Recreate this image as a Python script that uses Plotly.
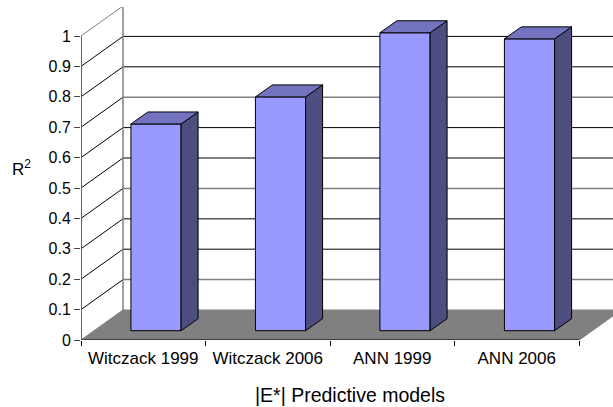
import plotly.graph_objects as go

categories = ["Witczack 1999", "Witczack 2006", "ANN 1999", "ANN 2006"]
r2_values = [0.68, 0.769, 0.98, 0.96]
y_ticks = [0, 0.1, 0.2, 0.3, 0.4, 0.5, 0.6, 0.7, 0.8, 0.9, 1]
y_tick_labels = ["0", "0.1", "0.2", "0.3", "0.4", "0.5", "0.6", "0.7", "0.8", "0.9", "1"]

FONT = "Liberation Sans"
BAND_PX, UNIT_PX = 124.5, 304.0
L, R, T, B = 81, 0, 7, 67
W, H = 613, 407
xmin, xmax = -0.5, -0.5 + (W - L - R) / BAND_PX
ymax = (H - T - B) / UNIT_PX
x_end = 3.5
wall_dx, wall_dy = 42 / BAND_PX, 30 / UNIT_PX
bar_w, bar_off, bar_base = 0.403, 12.75 / BAND_PX, 9.3 / UNIT_PX
bar_dx, bar_dy = 17 / BAND_PX, 12 / UNIT_PX

FRONT, TOP, SIDE = "#9999ff", "#7373bf", "#4d4d80"
GRID_STYLE = {0.1: ("#808080", 1.5), 0.3: ("#555555", 1.5), 0.4: ("#808080", 1.5),
              0.7: ("#808080", 1.5), 1: ("#808080", 1.5)}

shapes = []
def poly(pts, **kw):
    path = "M " + " L ".join(f"{x},{y}" for x, y in pts) + " Z"
    shapes.append(dict(type="path", path=path, xref="x", yref="y", layer="below", **kw))
def pline(pts, color, width):
    path = "M " + " L ".join(f"{x},{y}" for x, y in pts)
    shapes.append(dict(type="path", path=path, xref="x", yref="y", layer="below",
                       line=dict(color=color, width=width)))

poly([(xmin, 0), (xmin + wall_dx, wall_dy), (x_end + wall_dx, wall_dy), (x_end, 0)],
     fillcolor="#808080", line=dict(color="#808080", width=1))
for v in y_ticks[1:]:
    col, wid = GRID_STYLE.get(v, ("#000000", 1))
    side_col = "#808080" if v == 1 else "#000000"
    pline([(xmin, v), (xmin + wall_dx, v + wall_dy)], side_col, 1)
    pline([(xmin + wall_dx, v + wall_dy), (xmax, v + wall_dy)], col, wid)
pline([(xmin + wall_dx, wall_dy), (xmin + wall_dx, 1 + wall_dy)], "#808080", 1.5)
pline([(x_end, 0), (x_end + wall_dx, wall_dy)], "#808080", 1)

fig = go.Figure()
fig.add_trace(go.Bar(
    x=[i + bar_off for i in range(len(categories))], y=r2_values,
    base=bar_base, width=bar_w,
    marker=dict(color=FRONT, line=dict(color="#000000", width=1)),
    showlegend=False, hoverinfo="skip"))

for i, v in enumerate(r2_values):
    x0 = i + bar_off - bar_w / 2
    x1 = x0 + bar_w
    b, t = bar_base, bar_base + v
    fig.add_trace(go.Scatter(
        x=[x1, x1 + bar_dx, x1 + bar_dx, x1, x1], y=[b, b + bar_dy, t + bar_dy, t, b],
        fill="toself", fillcolor=SIDE, mode="lines", line=dict(color="#000000", width=1),
        showlegend=False, hoverinfo="skip"))
    fig.add_trace(go.Scatter(
        x=[x0, x0 + bar_dx, x1 + bar_dx, x1, x0], y=[t, t + bar_dy, t + bar_dy, t, t],
        fill="toself", fillcolor=TOP, mode="lines", line=dict(color="#000000", width=1),
        showlegend=False, hoverinfo="skip"))

fig.add_trace(go.Scatter(x=[xmin, xmin], y=[0, 1], mode="lines", cliponaxis=False,
                         line=dict(color="#666666", width=2), showlegend=False, hoverinfo="skip"))
fig.add_trace(go.Scatter(x=[xmin, x_end], y=[0, 0], mode="lines", cliponaxis=False,
                         line=dict(color="#000000", width=1), showlegend=False, hoverinfo="skip"))

fig.update_layout(
    width=W, height=H, autosize=False,
    margin=dict(l=L, r=R, t=T, b=B),
    paper_bgcolor="white", plot_bgcolor="white",
    font=dict(family=FONT, color="#000000"),
    shapes=shapes,
    xaxis=dict(range=[xmin, xmax], showgrid=False, zeroline=False, showline=False,
               tickmode="array", tickvals=list(range(len(categories))), ticktext=categories,
               ticks="", tickfont=dict(size=17, family=FONT), ticklabelstandoff=6,
               minor=dict(tickmode="array", tickvals=[-0.5, 0.5, 1.5, 2.5, 3.5],
                          ticks="outside", ticklen=5, tickwidth=1, tickcolor="#000000")),
    yaxis=dict(range=[0, ymax], showgrid=False, zeroline=False, showline=False,
               tickmode="array", tickvals=y_ticks, ticktext=y_tick_labels,
               ticks="outside", ticklen=6, tickwidth=1, tickcolor="#444444",
               tickfont=dict(size=16, family=FONT)),
    annotations=[
        dict(text="R<sup>2</sup>", xref="paper", yref="y", x=-0.111, y=0.565, showarrow=False,
             font=dict(size=17, family=FONT), xanchor="center", yanchor="middle"),
        dict(text="|E*| Predictive models", xref="x", yref="paper", x=1.66, y=-0.165,
             showarrow=False, font=dict(size=19.5, family=FONT), xanchor="center", yanchor="middle"),
    ],
)
fig.write_html("out.html", config={"displayModeBar": False},
               post_script="document.body.style.margin='0';document.body.style.overflow='hidden';")
